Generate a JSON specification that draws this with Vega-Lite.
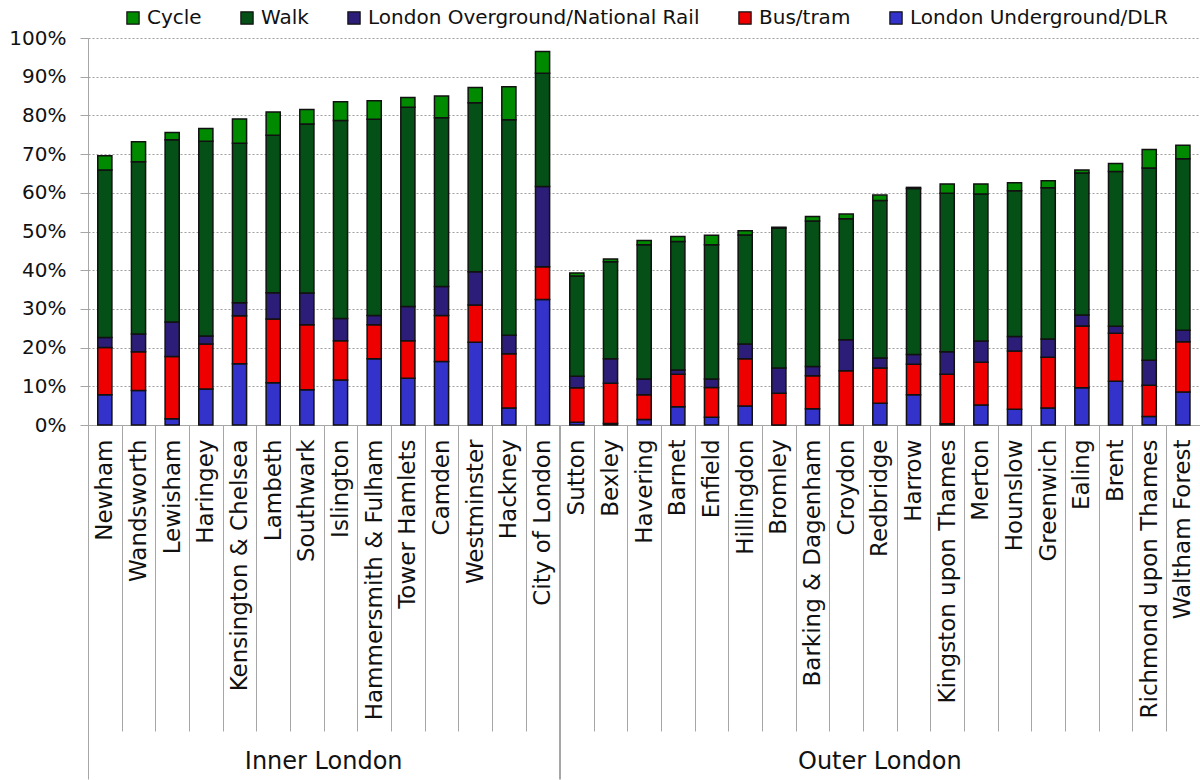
{
  "$schema": "https://vega.github.io/schema/vega-lite/v6.json",
  "background": "white",
  "padding": {"left": 5, "top": 8, "right": 0, "bottom": 0},
  "bounds": "flush",
  "config": {
    "font": "DejaVu Sans",
    "view": {"stroke": null},
    "axis": {"labelFont": "DejaVu Sans", "labelColor": "#111111", "domainColor": "#a6a6a6", "tickColor": "#a6a6a6", "domainWidth": 1, "tickWidth": 1}
  },
  "data": {"values": [
    {"b": "Newham", "r": "Inner London", "London Underground/DLR": 7.8, "Bus/tram": 12.2, "London Overground/National Rail": 2.6, "Walk": 43.3, "Cycle": 3.7},
    {"b": "Wandsworth", "r": "Inner London", "London Underground/DLR": 8.9, "Bus/tram": 10.0, "London Overground/National Rail": 4.6, "Walk": 44.5, "Cycle": 5.2},
    {"b": "Lewisham", "r": "Inner London", "London Underground/DLR": 1.6, "Bus/tram": 16.1, "London Overground/National Rail": 8.9, "Walk": 47.1, "Cycle": 1.9},
    {"b": "Haringey", "r": "Inner London", "London Underground/DLR": 9.3, "Bus/tram": 11.6, "London Overground/National Rail": 2.1, "Walk": 50.3, "Cycle": 3.3},
    {"b": "Kensington & Chelsea", "r": "Inner London", "London Underground/DLR": 15.8, "Bus/tram": 12.4, "London Overground/National Rail": 3.4, "Walk": 41.2, "Cycle": 6.3},
    {"b": "Lambeth", "r": "Inner London", "London Underground/DLR": 10.9, "Bus/tram": 16.5, "London Overground/National Rail": 6.8, "Walk": 40.7, "Cycle": 6.0},
    {"b": "Southwark", "r": "Inner London", "London Underground/DLR": 9.1, "Bus/tram": 16.8, "London Overground/National Rail": 8.2, "Walk": 43.7, "Cycle": 3.7},
    {"b": "Islington", "r": "Inner London", "London Underground/DLR": 11.6, "Bus/tram": 10.2, "London Overground/National Rail": 5.7, "Walk": 51.2, "Cycle": 4.8},
    {"b": "Hammersmith & Fulham", "r": "Inner London", "London Underground/DLR": 17.1, "Bus/tram": 8.8, "London Overground/National Rail": 2.4, "Walk": 50.7, "Cycle": 4.8},
    {"b": "Tower Hamlets", "r": "Inner London", "London Underground/DLR": 12.1, "Bus/tram": 9.7, "London Overground/National Rail": 8.8, "Walk": 51.5, "Cycle": 2.5},
    {"b": "Camden", "r": "Inner London", "London Underground/DLR": 16.4, "Bus/tram": 11.9, "London Overground/National Rail": 7.5, "Walk": 43.6, "Cycle": 5.6},
    {"b": "Westminster", "r": "Inner London", "London Underground/DLR": 21.4, "Bus/tram": 9.6, "London Overground/National Rail": 8.6, "Walk": 43.7, "Cycle": 3.9},
    {"b": "Hackney", "r": "Inner London", "London Underground/DLR": 4.4, "Bus/tram": 14.0, "London Overground/National Rail": 4.8, "Walk": 55.7, "Cycle": 8.5},
    {"b": "City of London", "r": "Inner London", "London Underground/DLR": 32.4, "Bus/tram": 8.5, "London Overground/National Rail": 20.7, "Walk": 29.3, "Cycle": 5.6},
    {"b": "Sutton", "r": "Outer London", "London Underground/DLR": 0.7, "Bus/tram": 8.9, "London Overground/National Rail": 3.0, "Walk": 25.9, "Cycle": 0.8},
    {"b": "Bexley", "r": "Outer London", "London Underground/DLR": 0.4, "Bus/tram": 10.4, "London Overground/National Rail": 6.3, "Walk": 25.1, "Cycle": 0.7},
    {"b": "Havering", "r": "Outer London", "London Underground/DLR": 1.4, "Bus/tram": 6.4, "London Overground/National Rail": 4.1, "Walk": 34.7, "Cycle": 1.1},
    {"b": "Barnet", "r": "Outer London", "London Underground/DLR": 4.7, "Bus/tram": 8.4, "London Overground/National Rail": 1.1, "Walk": 33.2, "Cycle": 1.3},
    {"b": "Enfield", "r": "Outer London", "London Underground/DLR": 2.0, "Bus/tram": 7.7, "London Overground/National Rail": 2.2, "Walk": 34.7, "Cycle": 2.4},
    {"b": "Hillingdon", "r": "Outer London", "London Underground/DLR": 4.9, "Bus/tram": 12.2, "London Overground/National Rail": 3.8, "Walk": 28.2, "Cycle": 1.1},
    {"b": "Bromley", "r": "Outer London", "London Underground/DLR": 0.0, "Bus/tram": 8.2, "London Overground/National Rail": 6.5, "Walk": 36.2, "Cycle": 0.2},
    {"b": "Barking & Dagenham", "r": "Outer London", "London Underground/DLR": 4.2, "Bus/tram": 8.5, "London Overground/National Rail": 2.4, "Walk": 37.6, "Cycle": 1.2},
    {"b": "Croydon", "r": "Outer London", "London Underground/DLR": 0.0, "Bus/tram": 14.0, "London Overground/National Rail": 8.0, "Walk": 31.3, "Cycle": 1.2},
    {"b": "Redbridge", "r": "Outer London", "London Underground/DLR": 5.6, "Bus/tram": 9.1, "London Overground/National Rail": 2.6, "Walk": 40.7, "Cycle": 1.4},
    {"b": "Harrow", "r": "Outer London", "London Underground/DLR": 7.8, "Bus/tram": 7.9, "London Overground/National Rail": 2.5, "Walk": 42.9, "Cycle": 0.3},
    {"b": "Kingston upon Thames", "r": "Outer London", "London Underground/DLR": 0.3, "Bus/tram": 12.8, "London Overground/National Rail": 5.8, "Walk": 41.0, "Cycle": 2.4},
    {"b": "Merton", "r": "Outer London", "London Underground/DLR": 5.2, "Bus/tram": 11.0, "London Overground/National Rail": 5.5, "Walk": 38.0, "Cycle": 2.6},
    {"b": "Hounslow", "r": "Outer London", "London Underground/DLR": 4.1, "Bus/tram": 15.0, "London Overground/National Rail": 3.8, "Walk": 37.6, "Cycle": 2.1},
    {"b": "Greenwich", "r": "Outer London", "London Underground/DLR": 4.4, "Bus/tram": 13.1, "London Overground/National Rail": 4.7, "Walk": 39.1, "Cycle": 1.8},
    {"b": "Ealing", "r": "Outer London", "London Underground/DLR": 9.6, "Bus/tram": 16.0, "London Overground/National Rail": 2.8, "Walk": 36.7, "Cycle": 0.8},
    {"b": "Brent", "r": "Outer London", "London Underground/DLR": 11.3, "Bus/tram": 12.4, "London Overground/National Rail": 1.8, "Walk": 40.0, "Cycle": 2.1},
    {"b": "Richmond upon Thames", "r": "Outer London", "London Underground/DLR": 2.2, "Bus/tram": 8.1, "London Overground/National Rail": 6.4, "Walk": 49.7, "Cycle": 4.8},
    {"b": "Waltham Forest", "r": "Outer London", "London Underground/DLR": 8.5, "Bus/tram": 13.0, "London Overground/National Rail": 3.0, "Walk": 44.3, "Cycle": 3.5}
  ]},
  "transform": [
    {"fold": ["London Underground/DLR", "Bus/tram", "London Overground/National Rail", "Walk", "Cycle"], "as": ["mode", "pct"]},
    {"calculate": "indexof(['London Underground/DLR', 'Bus/tram', 'London Overground/National Rail', 'Walk', 'Cycle'], datum.mode)", "as": "ord"}
  ],
  "facet": {
    "column": {
      "field": "r", "type": "nominal", "title": null, "sort": ["Inner London", "Outer London"],
      "header": {"labelOrient": "bottom", "labelFontSize": 24, "labelPadding": 325, "labelColor": "#111111", "labelFont": "DejaVu Sans"}
    }
  },
  "spacing": 0,
  "resolve": {"scale": {"x": "independent"}},
  "spec": {
    "width": {"step": 33.67},
    "height": 387,
    "mark": {"type": "bar", "stroke": "#111111", "strokeWidth": 1.5, "width": {"band": 0.42}},
    "encoding": {
      "x": {
        "field": "b", "type": "nominal", "sort": null, "title": null,
        "scale": {"paddingInner": 0, "paddingOuter": 0},
        "axis": {
          "tickBand": "extent", "labelAngle": -90, "labelFontSize": 23, "labelLimit": 0,
          "tickSize": {"condition": {"test": "!!datum.extra || datum.value === 'City of London' || datum.value === 'Waltham Forest'", "value": 354}, "value": 306},
          "labelPadding": {"condition": {"test": "datum.value === 'City of London' || datum.value === 'Waltham Forest'", "value": -340}, "value": -292}
        }
      },
      "y": {
        "field": "pct", "type": "quantitative", "stack": "zero",
        "scale": {"domain": [0, 100], "nice": false},
        "axis": {
          "values": [0, 10, 20, 30, 40, 50, 60, 70, 80, 90, 100],
          "labelExpr": "datum.value + '%'", "title": null, "grid": true,
          "gridDash": [2, 2], "gridColor": "#a0a0a0", "tickSize": 8, "labelPadding": 14,
          "labelFontSize": 20, "minExtent": 83
        }
      },
      "color": {
        "field": "mode", "type": "nominal",
        "scale": {
          "domain": ["Cycle", "Walk", "London Overground/National Rail", "Bus/tram", "London Underground/DLR"],
          "range": ["#008a00", "#045016", "#2c1e78", "#ee0000", "#3333cc"]
        },
        "legend": {
          "orient": "none", "legendX": 35, "legendY": -30, "direction": "horizontal", "title": null,
          "symbolType": "square", "symbolSize": 150, "symbolStrokeColor": "#111111", "symbolStrokeWidth": 1.2,
          "symbolOpacity": 1, "labelFontSize": 20, "labelFont": "DejaVu Sans", "labelColor": "#111111",
          "labelLimit": 0, "columnPadding": 35, "labelOffset": 4
        }
      },
      "order": {"field": "ord", "type": "quantitative"}
    }
  }
}
